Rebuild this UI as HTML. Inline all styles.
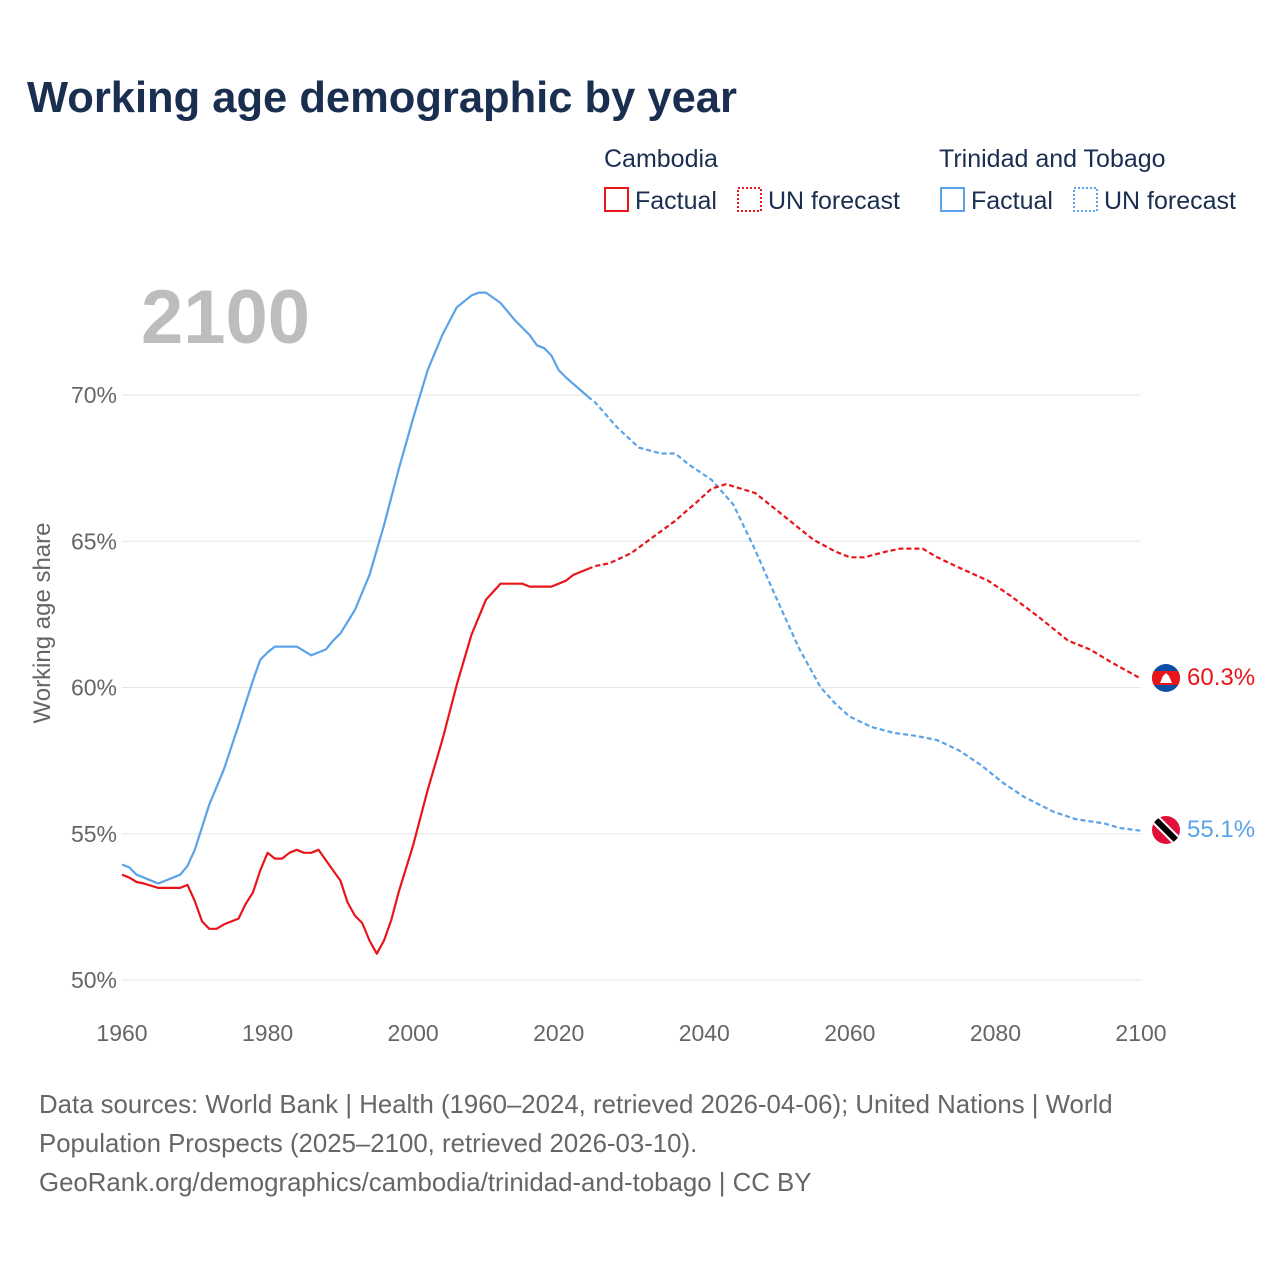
<!DOCTYPE html>
<html><head><meta charset="utf-8"><style>
body{margin:0;background:#fff;font-family:"Liberation Sans",sans-serif;}
#wrap{position:relative;width:1280px;height:1280px;overflow:hidden;}
</style></head><body>
<div id="wrap">
<svg id="svg" width="1280" height="1280" xmlns="http://www.w3.org/2000/svg">
<defs>
<clipPath id="c1"><circle cx="1166" cy="678" r="14"/></clipPath>
<clipPath id="c2"><circle cx="1166" cy="830" r="14"/></clipPath>
</defs>
<text x="27" y="112" font-size="43.5" font-weight="bold" fill="#1a2e50">Working age demographic by year</text>
<g font-size="25" fill="#1a2e50">
<text x="604" y="167">Cambodia</text>
<text x="939" y="167">Trinidad and Tobago</text>
<g><rect x="605" y="188" width="23" height="23" fill="none" stroke="#e8151b" stroke-width="2"/><text x="635" y="209">Factual</text></g>
<g><rect x="738" y="188" width="23" height="23" fill="none" stroke="#e8151b" stroke-width="2" stroke-dasharray="2,2"/><text x="768" y="209">UN forecast</text></g>
<g><rect x="941" y="188" width="23" height="23" fill="none" stroke="#5ba3e8" stroke-width="2"/><text x="971" y="209">Factual</text></g>
<g><rect x="1074" y="188" width="23" height="23" fill="none" stroke="#5ba3e8" stroke-width="2" stroke-dasharray="2,2"/><text x="1104" y="209">UN forecast</text></g>
</g>
<text x="141" y="343" font-size="76" font-weight="bold" fill="#bdbdbd">2100</text>
<text transform="translate(50,623) rotate(-90)" text-anchor="middle" font-size="24" fill="#666">Working age share</text>
<g id="grid"></g><g id="lines"></g>
<g clip-path="url(#c1)">
<rect x="1152" y="664" width="28" height="28" fill="#0b4ea2"/><rect x="1152" y="671" width="28" height="14" fill="#e8151b"/>
<polygon points="1160,683 1172,683 1169,676 1166,673 1163,676" fill="#fff"/></g>
<g clip-path="url(#c2)">
<rect x="1152" y="816" width="28" height="28" fill="#e0103a"/>
<line x1="1154" y1="818" x2="1178" y2="842" stroke="#fff" stroke-width="10"/>
<line x1="1154" y1="818" x2="1178" y2="842" stroke="#000" stroke-width="6"/></g>
<text x="1187" y="685" font-size="24" fill="#e8151b">60.3%</text>
<text x="1187" y="837" font-size="24" fill="#5ba3e8">55.1%</text>
<g font-size="25.8" fill="#666">
<text x="39" y="1113">Data sources: World Bank | Health (1960–2024, retrieved 2026-04-06); United Nations | World</text>
<text x="39" y="1152">Population Prospects (2025–2100, retrieved 2026-03-10).</text>
<text x="39" y="1191">GeoRank.org/demographics/cambodia/trinidad-and-tobago | CC BY</text>
</g>
</svg>
</div>
<script>
const yTicks=[50,55,60,65,70];
const xTicks=[1960,1980,2000,2020,2040,2060,2080,2100];
const camYears=[1960,1961,1962,1963,1965,1968,1969,1970,1971,1972,1973,1974,1976,1977,1978,1979,1980,1981,1982,1983,1984,1985,1986,1987,1988,1990,1991,1992,1993,1994,1995,1996,1997,1998,2000,2002,2004,2006,2008,2010,2012,2015,2016,2019,2021,2022,2024,2025,2027,2030,2033,2036,2039,2041,2043,2047,2050,2053,2055,2058,2060,2062,2065,2067,2070,2072,2075,2079,2082,2086,2090,2093,2096,2100];
const camVals=[53.6,53.5,53.35,53.3,53.15,53.15,53.25,52.7,52.0,51.75,51.75,51.9,52.1,52.6,53.0,53.75,54.35,54.15,54.15,54.35,54.45,54.35,54.35,54.45,54.1,53.4,52.65,52.2,51.95,51.35,50.9,51.35,52.05,53.0,54.6,56.5,58.2,60.1,61.8,63.0,63.55,63.55,63.45,63.45,63.65,63.85,64.05,64.15,64.25,64.6,65.15,65.7,66.35,66.8,66.95,66.65,66.05,65.45,65.05,64.65,64.45,64.45,64.65,64.75,64.75,64.45,64.1,63.65,63.15,62.4,61.6,61.3,60.85,60.3];
const ttYears=[1960,1961,1962,1965,1968,1969,1970,1972,1974,1976,1978,1979,1980,1981,1984,1986,1988,1989,1990,1992,1994,1996,1998,2000,2002,2004,2006,2008,2009,2010,2012,2014,2016,2017,2018,2019,2020,2021,2024,2025,2028,2031,2034,2036,2038,2041,2044,2047,2050,2053,2056,2058,2060,2063,2066,2069,2072,2075,2078,2081,2084,2088,2091,2095,2097,2100];
const ttVals=[53.95,53.85,53.6,53.3,53.6,53.9,54.45,56.0,57.2,58.7,60.25,60.95,61.2,61.4,61.4,61.1,61.3,61.6,61.85,62.65,63.85,65.55,67.45,69.2,70.85,72.05,73.0,73.4,73.5,73.5,73.15,72.55,72.05,71.7,71.6,71.35,70.85,70.6,69.95,69.75,68.9,68.2,68.0,68.0,67.6,67.1,66.25,64.7,63.0,61.35,60.0,59.45,59.0,58.65,58.45,58.35,58.2,57.85,57.35,56.75,56.25,55.75,55.5,55.35,55.2,55.1];
const lastFactual=2024;
const NS='http://www.w3.org/2000/svg';
const xs=y=>122+(y-1960)*(1019/140);
const ys=v=>980-(v-50)*29.25;
const grid=document.getElementById('grid');
yTicks.forEach(t=>{
  const l=document.createElementNS(NS,'line');
  l.setAttribute('x1',122);l.setAttribute('x2',1141);l.setAttribute('y1',ys(t));l.setAttribute('y2',ys(t));
  l.setAttribute('stroke','#e6e6e6');l.setAttribute('stroke-width','1');
  
  
  grid.appendChild(l);
  const tx=document.createElementNS(NS,'text');
  tx.setAttribute('x',117);tx.setAttribute('y',ys(t)+8);tx.setAttribute('text-anchor','end');
  tx.setAttribute('font-size','23');tx.setAttribute('fill','#666');tx.textContent=t+'%';
  
  
  grid.appendChild(tx);
});
xTicks.forEach(t=>{
  const tx=document.createElementNS(NS,'text');
  tx.setAttribute('x',xs(t));tx.setAttribute('y',1041);tx.setAttribute('text-anchor','middle');
  tx.setAttribute('font-size','23');tx.setAttribute('fill','#666');tx.textContent=t;
  
  
  grid.appendChild(tx);
});
const lines=document.getElementById('lines');
function draw(years,vals,color,name){
  const f=[],p=[];
  years.forEach((y,i)=>{const pt=xs(y).toFixed(1)+','+ys(vals[i]).toFixed(1);if(y<=lastFactual)f.push(pt);if(y>=lastFactual)p.push(pt);});
  [[f,null,'factual'],[p,'5,3','forecast']].forEach(([pts,dash,kind])=>{
    const pl=document.createElementNS(NS,'polyline');
    pl.setAttribute('points',pts.join(' '));pl.setAttribute('fill','none');
    pl.setAttribute('stroke',color);pl.setAttribute('stroke-width','2.2');pl.setAttribute('stroke-linejoin','round');
    if(dash)pl.setAttribute('stroke-dasharray',dash);
    
    
    lines.appendChild(pl);
  });
}
draw(ttYears,ttVals,'#5ba3e8','trinidad-and-tobago');
draw(camYears,camVals,'#e8151b','cambodia');
</script>
</body></html>
